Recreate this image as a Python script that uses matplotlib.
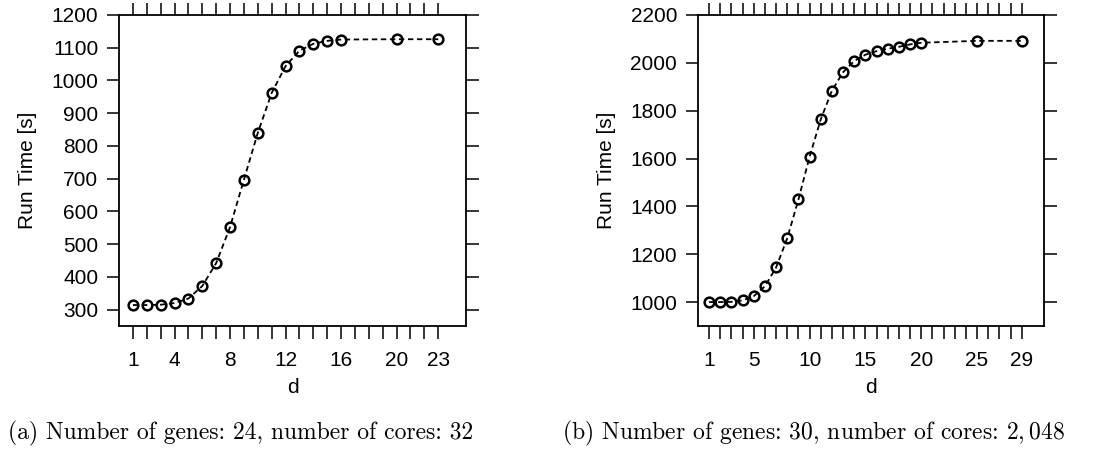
import matplotlib
matplotlib.use("Agg")
import matplotlib.pyplot as plt

# panel (a): 24 genes, 32 cores
d_a = [1, 2, 3, 4, 5, 6, 7, 8, 9, 10, 11, 12, 13, 14, 15, 16, 20, 23]
time_a = [314, 314, 315, 320, 334, 372, 442, 552, 697, 840, 962, 1044,
          1091, 1112, 1121, 1125, 1126, 1126]
xticks_a = [1, 4, 8, 12, 16, 20, 23]
yticks_a = [300, 400, 500, 600, 700, 800, 900, 1000, 1100, 1200]
caption_a = "(a) Number of genes: 24, number of cores: 32"

# panel (b): 30 genes, 2048 cores
d_b = [1, 2, 3, 4, 5, 6, 7, 8, 9, 10, 11, 12, 13, 14, 15, 16, 17, 18, 19,
       20, 25, 29]
time_b = [1000, 1000, 1001, 1007, 1025, 1066, 1145, 1267, 1429, 1608, 1764,
          1884, 1961, 2008, 2034, 2049, 2059, 2067, 2077, 2084, 2092, 2092]
xticks_b = [1, 5, 10, 15, 20, 25, 29]
yticks_b = [1000, 1200, 1400, 1600, 1800, 2000, 2200]
caption_b = r"(b) Number of genes: 30, number of cores: $2,048$"

plt.rcParams['font.family'] = ['Liberation Sans', 'DejaVu Sans']
plt.rcParams['mathtext.fontset'] = 'cm'

W, H = 1101, 450
fig = plt.figure(figsize=(W / 100, H / 100), dpi=100)


def panel(rect, d, t, xticks, yticks, xlim, ylim):
    l, top, r, b = rect
    ax = fig.add_axes([l / W, 1 - b / H, (r - l) / W, (b - top) / H])
    ax.plot(d, t, color='black', linestyle=(0, (3, 2)), linewidth=1.3,
            marker='o', markersize=7, markerfacecolor='none',
            markeredgewidth=1.8, markeredgecolor='black')
    ax.set_xlim(*xlim)
    ax.set_ylim(*ylim)
    ax.set_xticks(range(xticks[0], xticks[-1] + 1))
    ax.set_xticklabels([str(i) if i in xticks else '' for i in range(xticks[0], xticks[-1] + 1)])
    ax.set_yticks(yticks)
    ax.tick_params(axis='both', direction='out', length=9, width=1.1,
                   labelsize=15, top=True, right=True)
    ax.tick_params(axis='x', pad=9)
    ax.tick_params(axis='y', pad=6)
    for s in ax.spines.values():
        s.set_linewidth(1.3)
    ax.set_xlabel('d', fontsize=15, labelpad=6)
    ax.set_ylabel('Run Time [s]', fontsize=15, labelpad=10)
    return ax


panel((119, 15, 466, 326), d_a, time_a, xticks_a, yticks_a, (0, 25), (250, 1200))
panel((698, 15, 1044, 326), d_b, time_b, xticks_b, yticks_b, (0, 31), (900, 2200))

fig.text(241 / W, 1 - 433 / H, caption_a, family='cmr10', fontsize=17,
         ha='center', va='center')
fig.text(813 / W, 1 - 433 / H, caption_b, family='cmr10', fontsize=17,
         ha='center', va='center')

fig.savefig('out.png', dpi=100)
